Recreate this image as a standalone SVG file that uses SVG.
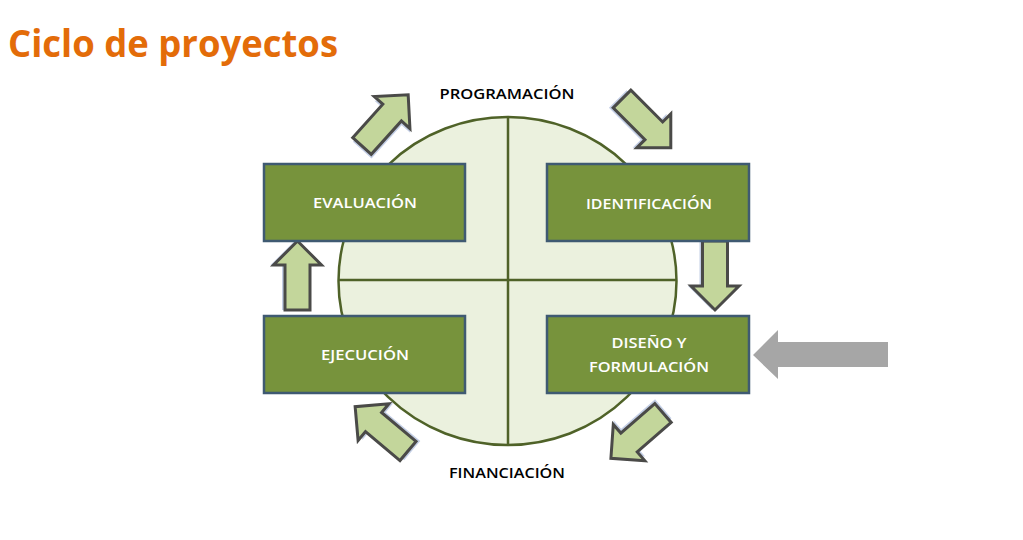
<svg xmlns="http://www.w3.org/2000/svg" width="1023" height="540" viewBox="0 0 1023 540">
<style>
.box{fill:#77933C;stroke:#3F5A72;stroke-width:2.5}
.bl{fill:#FFFFFF;font-family:"Open Sans","Liberation Sans",sans-serif;font-size:14px;font-weight:600;text-anchor:middle}
.lbl{fill:#000000;font-family:"Open Sans","Liberation Sans",sans-serif;font-size:14px;font-weight:600;text-anchor:middle}
.arr{fill:#C3D69B;stroke:#4A4A48;stroke-width:3;stroke-linejoin:miter}
.sh{fill:#B4C2DE;opacity:0.8}
.ring{fill:#EBF1DE;stroke:#4F6228;stroke-width:2.5}
.div{stroke:#4F6228;stroke-width:2.5;fill:none}
</style>
<defs>
<path id="ba" d="M0,-12.5 L45,-12.5 L45,-24 L69,0 L45,24 L45,12.5 L0,12.5 Z"/>
</defs>
<rect width="1023" height="540" fill="#FFFFFF"/>
<text x="8" y="57" font-family="'Open Sans','Liberation Sans',sans-serif" font-size="38" font-weight="bold" fill="#E36C09" textLength="330" lengthAdjust="spacingAndGlyphs">Ciclo de proyectos</text>

<g id="cycle">
<ellipse class="ring" cx="507.5" cy="281" rx="169" ry="164"/>
<line class="div" x1="508" y1="117" x2="508" y2="445"/>
<line class="div" x1="339" y1="280" x2="676" y2="280"/>
</g>

<text class="lbl" x="507" y="99" textLength="135" lengthAdjust="spacingAndGlyphs">PROGRAMACIÓN</text>
<text class="lbl" x="507" y="478" textLength="116" lengthAdjust="spacingAndGlyphs">FINANCIACIÓN</text>

<g id="connectors">
<g transform="translate(362,146) rotate(-48)"><use href="#ba" class="sh" transform="translate(-3,3)"/><use href="#ba" class="arr"/></g>
<g transform="translate(622,99) rotate(45)"><use href="#ba" class="sh" transform="translate(-3,3)"/><use href="#ba" class="arr"/></g>
<g transform="translate(715,241) rotate(90)"><use href="#ba" class="sh" transform="translate(0,3)"/><use href="#ba" class="arr"/></g>
<g transform="translate(663,413) rotate(139)"><use href="#ba" class="sh" transform="translate(-3,3)"/><use href="#ba" class="arr"/></g>
<g transform="translate(408,451) rotate(220)"><use href="#ba" class="sh" transform="translate(-3,3)"/><use href="#ba" class="arr"/></g>
<g transform="translate(297.5,310) rotate(-90)"><use href="#ba" class="sh" transform="translate(0,-3)"/><use href="#ba" class="arr"/></g>
<polygon points="888,342 778,342 778,330 753,355 778,379 778,367 888,367" fill="#A6A6A6"/>
</g>

<g id="evaluacion">
<rect class="box" x="264" y="164" width="201" height="77"/>
<text class="bl" x="365" y="208" textLength="104" lengthAdjust="spacingAndGlyphs">EVALUACIÓN</text>
</g>
<g id="identificacion">
<rect class="box" x="547" y="164" width="202" height="77"/>
<text class="bl" x="649" y="209" textLength="126" lengthAdjust="spacingAndGlyphs">IDENTIFICACIÓN</text>
</g>
<g id="ejecucion">
<rect class="box" x="264" y="316" width="201" height="77"/>
<text class="bl" x="365" y="360" textLength="88" lengthAdjust="spacingAndGlyphs">EJECUCIÓN</text>
</g>
<g id="diseno">
<rect class="box" x="547" y="316" width="202" height="77"/>
<text class="bl" x="649" y="348" textLength="75" lengthAdjust="spacingAndGlyphs">DISEÑO Y</text>
<text class="bl" x="649" y="372" textLength="120" lengthAdjust="spacingAndGlyphs">FORMULACIÓN</text>
</g>
</svg>
